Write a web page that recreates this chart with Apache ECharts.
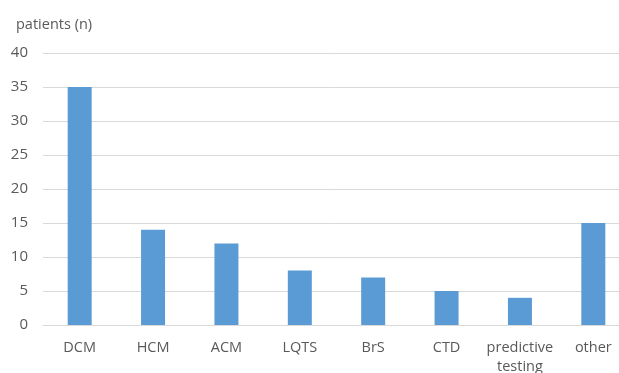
<!DOCTYPE html>
<html>
<head>
<meta charset="utf-8">
<script src="https://cdn.jsdelivr.net/npm/echarts@6/dist/echarts.min.js"></script>
<style>
  html, body { margin: 0; padding: 0; background: #fff; }
  #chart { width: 619px; height: 373px; }
</style>
</head>
<body>
<div id="chart"></div>
<script>
// Diagnosis groups and patient counts
const categories = ['DCM', 'HCM', 'ACM', 'LQTS', 'BrS', 'CTD', 'predictive\ntesting', 'other'];
const patients = [35, 14, 12, 8, 7, 5, 4, 15];
const yTicks = { min: 0, max: 40, interval: 5 };
const yTitle = 'patients (n)';

const font = '"Open Sans", "Liberation Sans", sans-serif';
const textColor = '#595959';

const chart = echarts.init(document.getElementById('chart'));
chart.setOption({
  animation: false,
  backgroundColor: '#ffffff',
  title: {
    text: yTitle,
    left: 11,
    top: 12,
    textStyle: { fontFamily: font, fontSize: 14.5, fontWeight: 'normal', color: textColor }
  },
  // plot area runs slightly past the right edge of the canvas
  grid: { left: 43, top: 53, width: 587, height: 272, containLabel: false, outerBoundsMode: 'none' },
  xAxis: {
    type: 'category',
    data: categories,
    axisLine: { lineStyle: { color: '#d9d9d9', width: 1 } },
    axisTick: { show: false },
    axisLabel: {
      interval: 0,
      margin: 13,
      fontFamily: font,
      fontSize: 14.5,
      lineHeight: 19,
      color: textColor
    }
  },
  yAxis: {
    type: 'value',
    min: yTicks.min,
    max: yTicks.max,
    interval: yTicks.interval,
    axisLine: { show: false },
    axisTick: { show: false },
    splitLine: { lineStyle: { color: '#d9d9d9', width: 1 } },
    axisLabel: { margin: 15, fontFamily: font, fontSize: 15, color: textColor }
  },
  series: [{
    type: 'bar',
    data: patients,
    barWidth: 24,
    itemStyle: { color: '#5b9bd5' }
  }]
});
</script>
</body>
</html>
